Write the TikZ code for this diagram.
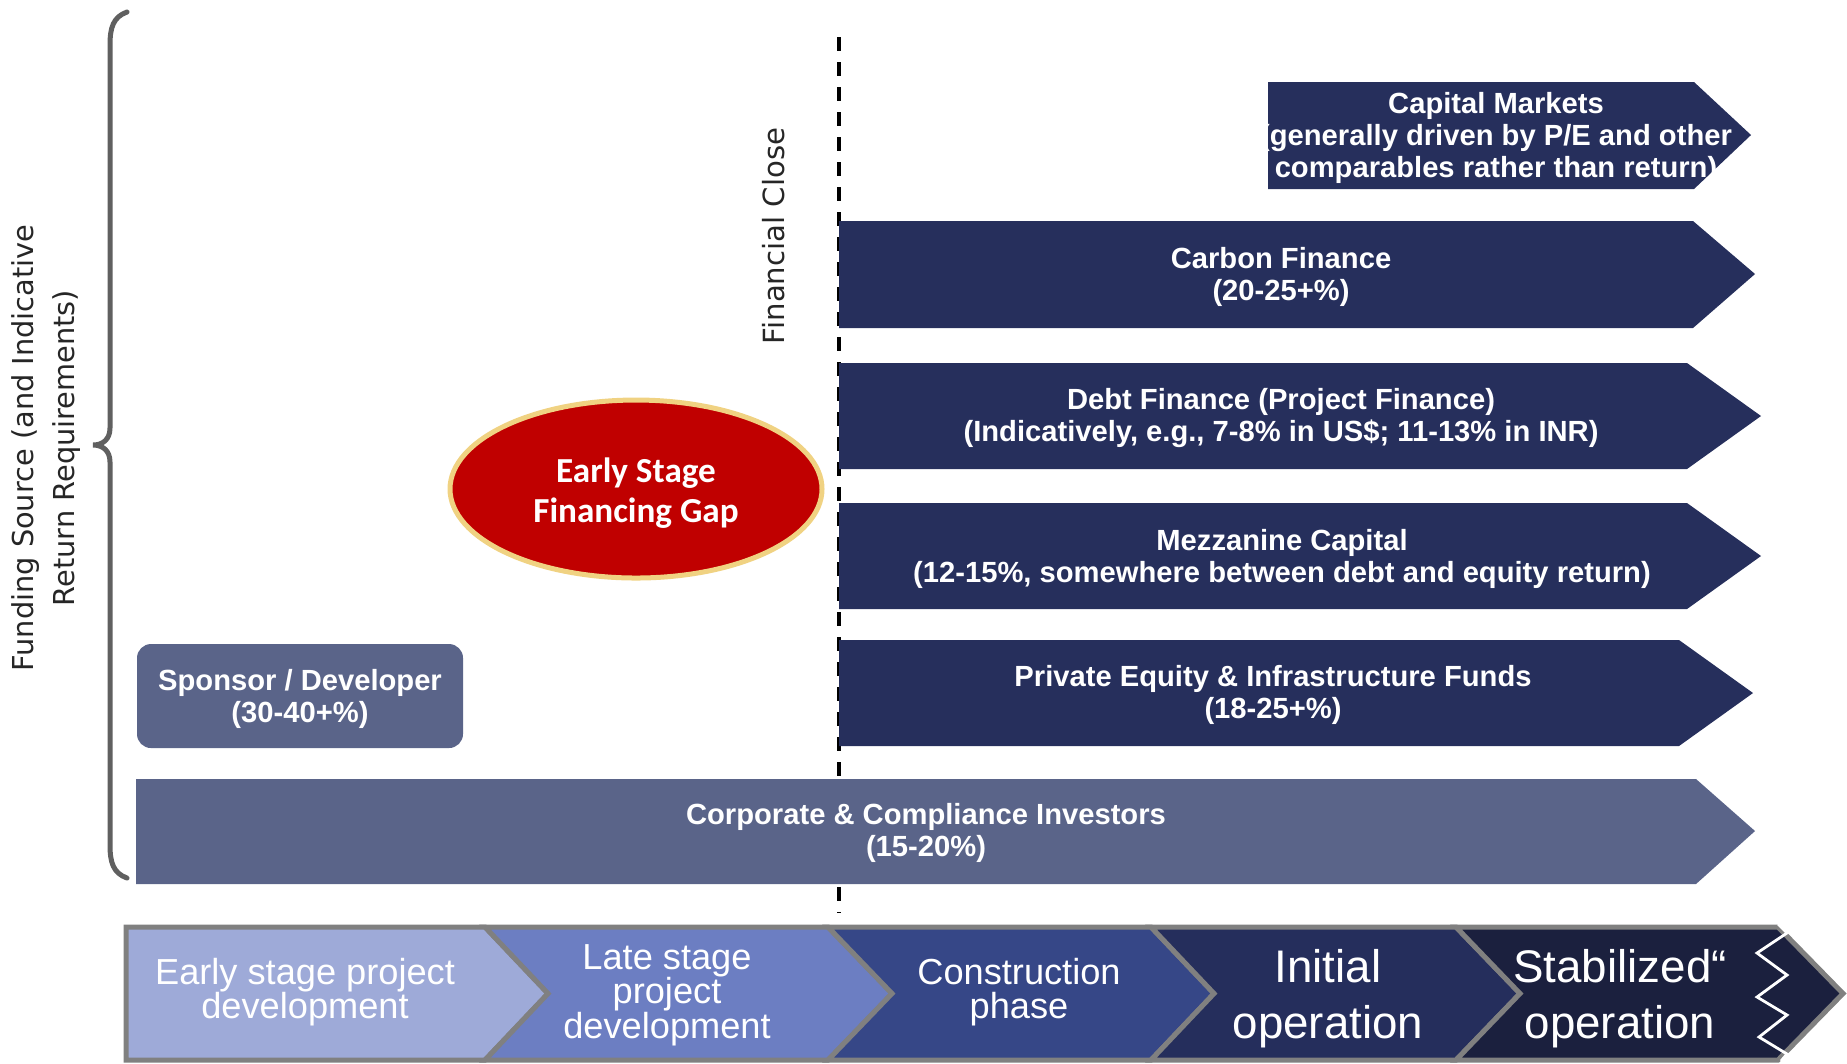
\documentclass[tikz,border=0pt]{standalone}
\usepackage{fontspec}
\setmainfont{Liberation Sans}
\newfontfamily\gapfont{Carlito}
\newfontfamily\sidefont{DejaVu Sans}
\usetikzlibrary{shapes.geometric}

\definecolor{navy}{RGB}{38,47,92}
\definecolor{slate}{RGB}{90,100,137}
\definecolor{gapred}{RGB}{192,0,0}
\definecolor{gapgold}{RGB}{240,210,130}
\definecolor{phaseA}{RGB}{158,170,216}
\definecolor{phaseB}{RGB}{108,126,194}
\definecolor{phaseC}{RGB}{54,71,135}
\definecolor{phaseD}{RGB}{37,46,92}
\definecolor{phaseE}{RGB}{27,32,62}
\definecolor{rim}{RGB}{128,128,128}
\definecolor{bracegray}{RGB}{96,96,96}

\begin{document}
\begin{tikzpicture}[x=0.1mm, y=-0.1mm,
    lbl/.style={text=white, align=center, inner sep=0pt, font=\bfseries\fontsize{8.3}{9.2}\selectfont},
    phase/.style={draw=rim, line width=0.5mm},
    phaselbl/.style={text=white, align=center, inner sep=0pt, font=\fontsize{10.3}{9.8}\selectfont},
    biglbl/.style={text=white, align=center, inner sep=0pt, font=\fontsize{13}{16}\selectfont}]

      \useasboundingbox (0,0) rectangle (1847,1063);

      % financial close marker, behind the bars
      \coordinate (closetop) at (839,37);
      \coordinate (closebot) at (839,913);
      \draw[line width=0.35mm, dash pattern=on 1.4mm off 1.1mm] (closetop) -- (closebot);
      \node[rotate=90, text=black!85, font=\sidefont\fontsize{8.3}{10}\selectfont] (close) at (774,236) {Financial Close};

      % sources of money, most junior on top
      \fill[navy] (1268,82) -- (1694,82) -- (1751,135) -- (1694,189) -- (1268,189) -- cycle;
      \node[lbl] (capital) at (1496,138) {Capital Markets\\(generally driven by P/E and other\\comparables rather than return)};

      \fill[navy] (839,221) -- (1693,221) -- (1755,274) -- (1693,328) -- (839,328) -- cycle;
      \node[lbl] (carbon) at (1281,277) {Carbon Finance\\(20-25+\%)};

      \fill[navy] (839,363) -- (1687,363) -- (1761,416) -- (1687,469) -- (839,469) -- cycle;
      \node[lbl] (debt) at (1281,418) {Debt Finance (Project Finance)\\(Indicatively, e.g., 7-8\% in US\$; 11-13\% in INR)};

      \fill[navy] (839,503) -- (1687,503) -- (1761,556) -- (1687,609) -- (839,609) -- cycle;
      \node[lbl] (mezz) at (1282,559) {Mezzanine Capital\\(12-15\%, somewhere between debt and equity return)};

      \fill[navy] (839,640) -- (1679,640) -- (1753,693) -- (1679,746) -- (839,746) -- cycle;
      \node[lbl] (equity) at (1273,695) {Private Equity \& Infrastructure Funds\\(18-25+\%)};

      \fill[slate] (136,779) -- (1696,779) -- (1755,831) -- (1696,884) -- (136,884) -- cycle;
      \node[lbl] (corporate) at (926,833) {Corporate \& Compliance Investors\\(15-20\%)};

      \fill[slate, rounded corners=1.4mm] (137,644) rectangle (463,748);
      \node[lbl] (sponsor) at (300,699) {Sponsor / Developer\\(30-40+\%)};

      \node[ellipse, fill=gapred, draw=gapgold, line width=0.5mm, minimum width=37.2mm, minimum height=17.8mm,
        inner sep=0pt, text=white, align=center, font=\gapfont\bfseries\fontsize{10}{11.4}\selectfont] (gap) at (636,489) {};
      \node[text=white, align=center, inner sep=0pt, font=\gapfont\bfseries\fontsize{10}{11.4}\selectfont] (gaptext) at (636,493) {Early Stage\\Financing Gap};

      % brace and axis title
      \draw[bracegray, line width=0.5mm, line cap=round] (127,12) .. controls (113,17) and (110,28) .. (110,45) -- (110,428)
        .. controls (110,440) and (102,445) .. (93,445) .. controls (102,445) and (110,450) .. (110,462) -- (110,845)
        .. controls (110,862) and (113,873) .. (127,878);
      \node[rotate=90, align=center, text=black!85, font=\sidefont\fontsize{8.2}{11.7}\selectfont] (funding) at (46,448) {Funding Source (and Indicative\\Return Requirements)};

      % project phases
      \draw[phase, fill=phaseA] (126,927) -- (485,927) -- (548,993.5) -- (485,1060) -- (126,1060) -- cycle;
      \draw[phase, fill=phaseB] (485,927) -- (828,927) -- (892,993.5) -- (828,1060) -- (485,1060) -- (548,993.5) -- cycle;
      \draw[phase, fill=phaseC] (828,927) -- (1151,927) -- (1214,993.5) -- (1151,1060) -- (828,1060) -- (892,993.5) -- cycle;
      \draw[phase, fill=phaseD] (1151,927) -- (1456,927) -- (1520,993.5) -- (1456,1060) -- (1151,1060) -- (1214,993.5) -- cycle;
      \draw[phase, fill=phaseE] (1456,927) -- (1778,927) -- (1843,993.5) -- (1778,1060) -- (1456,1060) -- (1520,993.5) -- cycle;
      \draw[white, line width=0.28mm] (1778,924) -- (1787,933) -- (1757,953) -- (1787,975) -- (1757,997) -- (1787,1015)
        -- (1759,1037) -- (1787,1054) -- (1781,1061);

      \node[phaselbl] (early) at (305,992) {Early stage project\\development};
      \node[phaselbl] (late) at (667,995) {Late stage\\project\\development};
      \node[phaselbl] (build) at (1019,992) {Construction\\phase};
      \node[biglbl] (initial) at (1328,999) {Initial\\operation};
      \node[biglbl] (stable) at (1620,999) {Stabilized“\\operation};
    \end{tikzpicture}
\end{document}
